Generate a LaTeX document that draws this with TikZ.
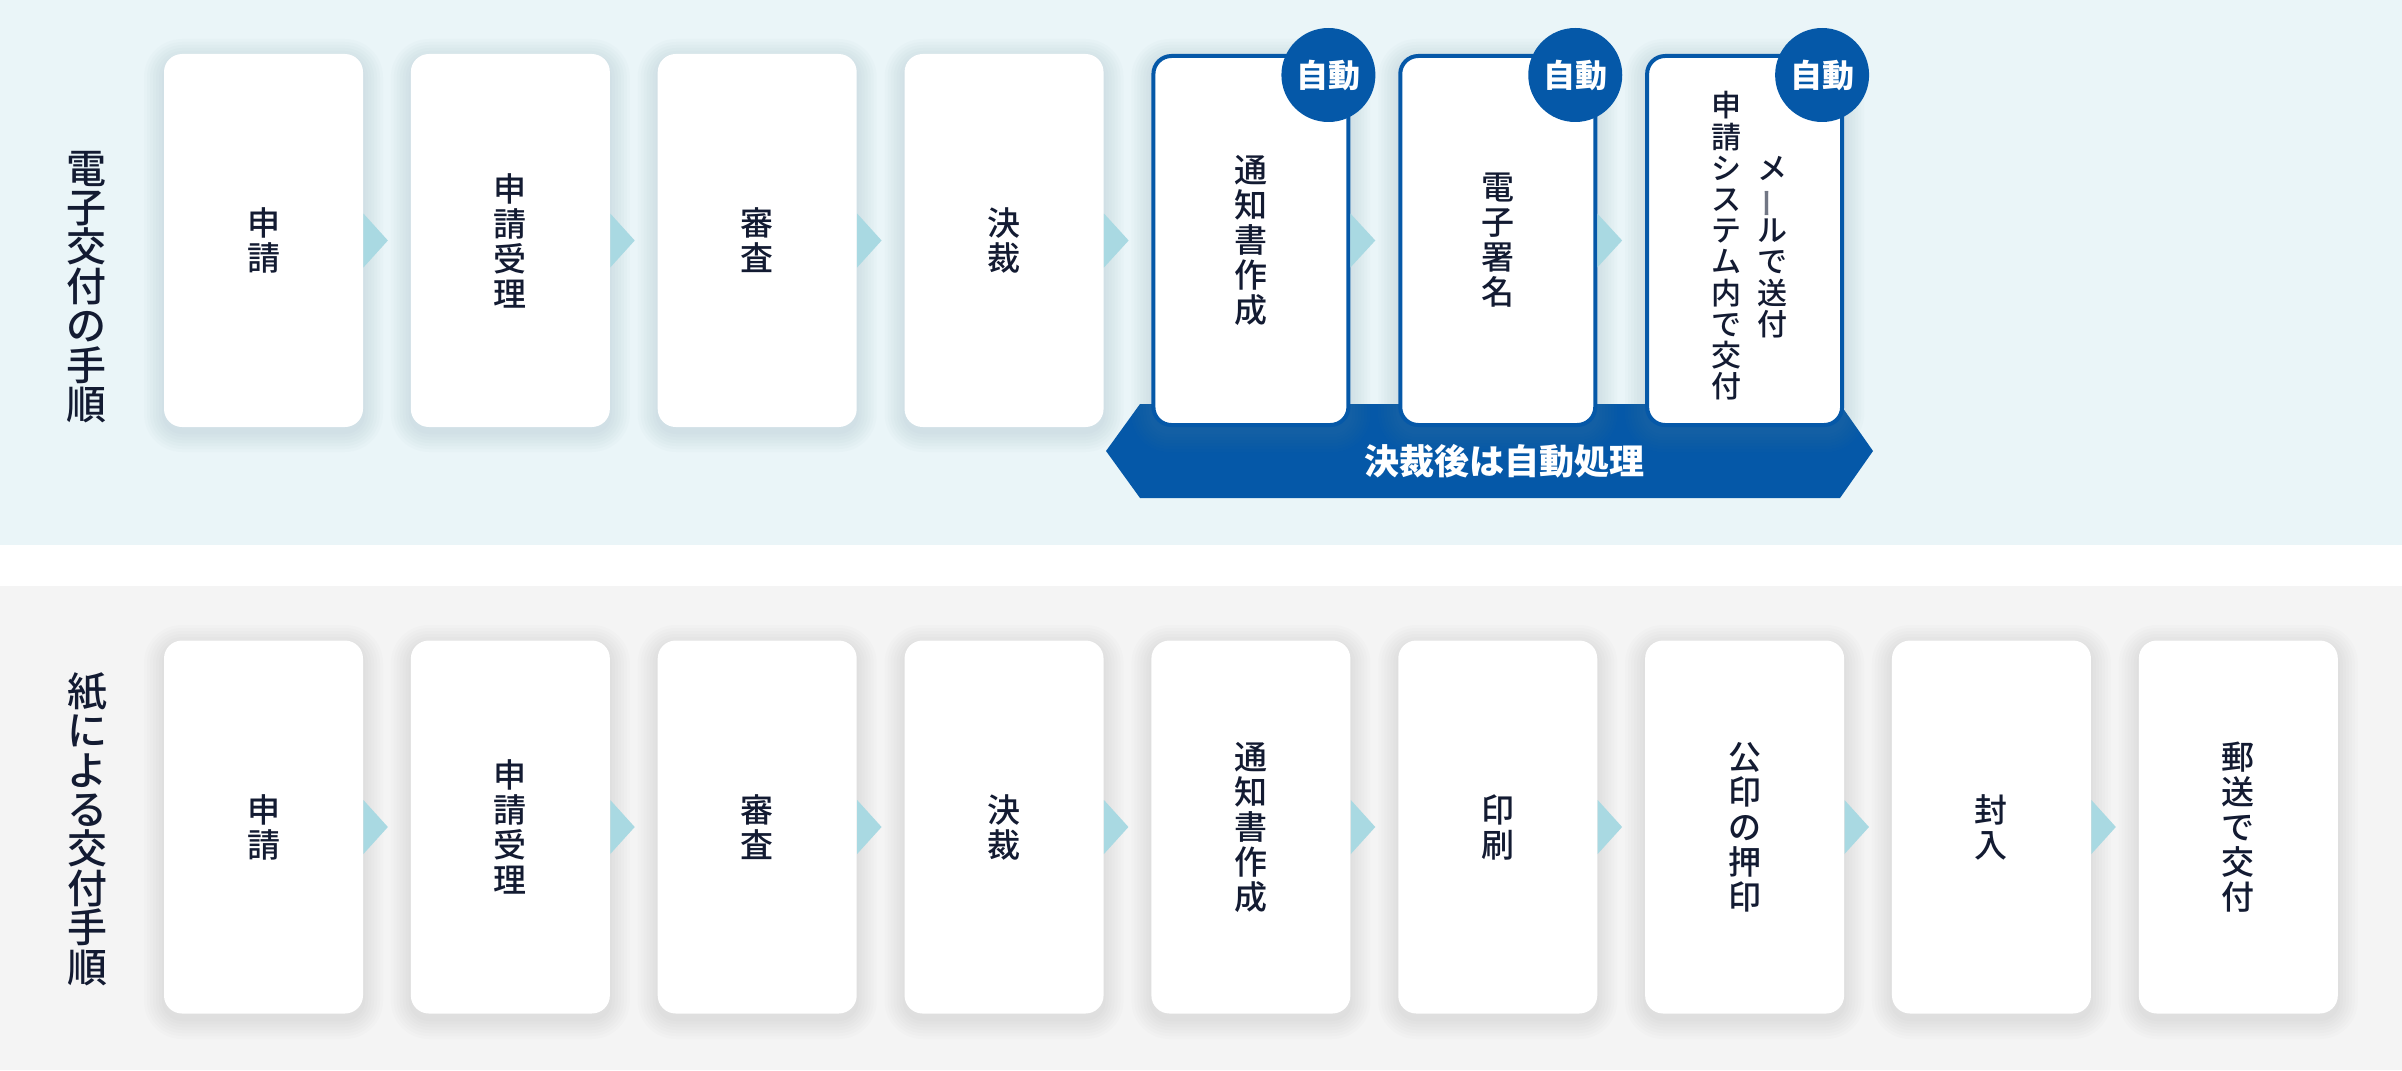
\documentclass[tikz,border=0pt]{standalone}
\usepackage{fontspec}
\usepackage{graphicx}
\setmainfont{Noto Sans CJK JP}
\newfontfamily\jpm[UprightFont={* Medium}]{Noto Sans CJK JP}
\usetikzlibrary{calc}
\definecolor{topbg}{HTML}{EAF5F8}
\definecolor{botbg}{HTML}{F4F4F4}
\definecolor{navy}{HTML}{131B32}
\definecolor{autoblue}{HTML}{0558A8}
\definecolor{chev}{HTML}{A9D9E2}
\definecolor{shtop}{HTML}{6F98A4}
\definecolor{shbot}{HTML}{888888}
\tikzset{
 card/.style={fill=white, rounded corners=9pt, minimum width=99.5pt, minimum height=186.5pt, inner sep=0pt, text=navy, align=center, font=\jpm\fontsize{16.5pt}{17.5pt}\selectfont},
 autocard/.style={card, draw=autoblue, line width=2pt, minimum width=97.5pt, minimum height=184.5pt},
 badge/.style={circle, fill=autoblue, minimum size=47pt, inner sep=0pt, text=white, font=\bfseries\fontsize{16pt}{16pt}\selectfont},
 steplabel/.style={text=navy, align=center, inner sep=0pt, font=\jpm\fontsize{20pt}{19.7pt}\selectfont},
 chevron/.style={fill=chev},
 coltext/.style={text=navy, align=center, inner sep=0pt, font=\jpm\fontsize{15pt}{15.6pt}\selectfont},
 bandtext/.style={text=white, inner sep=0pt, font=\bfseries\fontsize{17.5pt}{17.5pt}\selectfont},
}
\begin{document}
\begin{tikzpicture}[x=0.5pt,y=-0.5pt]
\useasboundingbox (0,0) rectangle (2402,1070);
\fill[topbg] (0,0) rectangle (2402,545);
\fill[botbg] (0,586) rectangle (2402,1070);
% automatic band
\fill[autoblue] (1106,451) -- (1140,404) -- (1840,404) -- (1873,451) -- (1840,498) -- (1140,498) -- cycle;
% soft shadows
\foreach \k in {0,...,6}{
 \foreach \s in {2,5,...,20}{
  \pgfmathsetmacro\rr{9+\s/2}
  \fill[shtop,opacity=0.028,rounded corners=\rr pt] ({164+246.85*\k-\s},{54-\s+5}) rectangle ({363+246.85*\k+\s},{427+\s+5});
 }}
\foreach \k in {0,...,8}{
 \foreach \s in {2,5,...,20}{
  \pgfmathsetmacro\rr{9+\s/2}
  \fill[shbot,opacity=0.022,rounded corners=\rr pt] ({164+246.85*\k-\s},{640-\s+5}) rectangle ({363+246.85*\k+\s},{1014+\s+5});
 }}
% labels
\node[steplabel] (L1) at (86,287) {電\\子\\交\\付\\の\\手\\順};
\node[steplabel] (L2) at (87,829) {紙\\に\\よ\\る\\交\\付\\手\\順};
% top row
\node[card] (t1) at (263.5,240.5) {申\\請};
\node[card] (t2) at (510.35,240.5) {申\\請\\受\\理};
\node[card] (t3) at (757.2,240.5) {審\\査};
\node[card] (t4) at (1004.05,240.5) {決\\裁};
\node[autocard] (t5) at (1250.9,240.5) {通\\知\\書\\作\\成};
\node[autocard] (t6) at (1497.75,240.5) {電\\子\\署\\名};
\node[autocard] (t7) at (1744.6,240.5) {};
\node[coltext] (m1) at (1772,247) {メ\\{\color{navy!60}\rotatebox[origin=c]{90}{ー}}\\ル\\で\\送\\付};
\node[coltext] (m2) at (1726,246) {申\\請\\シ\\ス\\テ\\ム\\内\\で\\交\\付};
% bottom row
\node[card] (b1) at (263.5,827) {申\\請};
\node[card] (b2) at (510.35,827) {申\\請\\受\\理};
\node[card] (b3) at (757.2,827) {審\\査};
\node[card] (b4) at (1004.05,827) {決\\裁};
\node[card] (b5) at (1250.9,827) {通\\知\\書\\作\\成};
\node[card] (b6) at (1497.75,827) {印\\刷};
\node[card] (b7) at (1744.6,827) {公\\印\\の\\押\\印};
\node[card] (b8) at (1991.45,827) {封\\入};
\node[card] (b9) at (2238.3,827) {郵\\送\\で\\交\\付};
% chevrons
\foreach \a/\b in {t1/t2,t2/t3,t3/t4,t4/t5,t5/t6,t6/t7,b1/b2,b2/b3,b3/b4,b4/b5,b5/b6,b6/b7,b7/b8,b8/b9}{
 \fill[chevron] ($(\a.east)+(0,-27)$) -- ($(\a.east)!0.52!(\b.west)$) -- ($(\a.east)+(0,27)$) -- cycle;
}
% badges
\node[badge] (a5) at ($(t5.north east)+(-22,21)$) {自動};
\node[badge] (a6) at ($(t6.north east)+(-22,21)$) {自動};
\node[badge] (a7) at ($(t7.north east)+(-22,21)$) {自動};
% band text
\node[bandtext] (band) at (1504,461) {決裁後は自動処理};
\end{tikzpicture}
\end{document}
